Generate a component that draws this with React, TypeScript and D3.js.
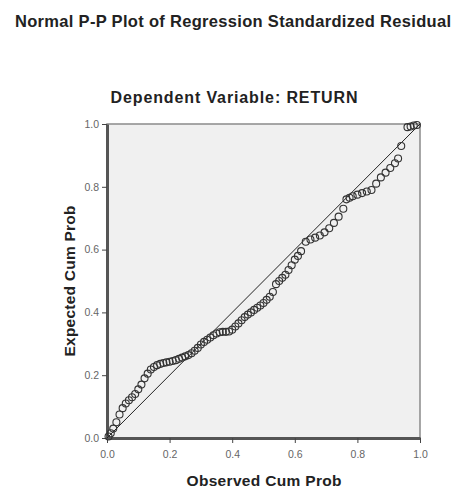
import { useEffect, useRef } from 'react'
import * as d3 from 'd3'

// Observed cum prob (x) and expected cum prob (y)
const observed = [
  0.005, 0.012, 0.02, 0.03, 0.04, 0.05, 0.06, 0.07, 0.08, 0.09,
  0.1, 0.11, 0.12, 0.13, 0.14, 0.15, 0.16, 0.17, 0.18, 0.19,
  0.2, 0.21, 0.22, 0.23, 0.24, 0.25, 0.26, 0.27, 0.28, 0.29,
  0.3, 0.31, 0.32, 0.33, 0.34, 0.35, 0.36, 0.37, 0.38, 0.39,
  0.4, 0.41, 0.42, 0.43, 0.44, 0.45, 0.46, 0.47, 0.48, 0.49,
  0.5, 0.51, 0.52, 0.53, 0.54, 0.55, 0.56, 0.57, 0.58, 0.59,
  0.6, 0.61, 0.62, 0.635, 0.65, 0.665, 0.68, 0.695, 0.71, 0.725,
  0.74, 0.755, 0.765, 0.775, 0.785, 0.8, 0.815, 0.83, 0.845, 0.86,
  0.875, 0.89, 0.905, 0.92, 0.93, 0.94, 0.96, 0.97, 0.98, 0.99,
]
const expected = [
  0.005, 0.015, 0.03, 0.05, 0.075, 0.095, 0.11, 0.12, 0.13, 0.14,
  0.155, 0.17, 0.19, 0.205, 0.218, 0.226, 0.232, 0.236, 0.239, 0.241,
  0.243, 0.245, 0.248, 0.252, 0.256, 0.26, 0.264, 0.27, 0.278, 0.287,
  0.298, 0.306, 0.313, 0.32, 0.327, 0.333, 0.337, 0.338, 0.338, 0.339,
  0.345, 0.355, 0.365, 0.375, 0.385, 0.393, 0.4, 0.408, 0.415, 0.422,
  0.43, 0.44, 0.45, 0.465, 0.49, 0.5, 0.51, 0.52, 0.535, 0.55,
  0.568, 0.58, 0.595, 0.625, 0.632, 0.638, 0.645, 0.655, 0.668, 0.685,
  0.705, 0.73, 0.76, 0.765, 0.77, 0.775, 0.78, 0.785, 0.79, 0.81,
  0.83, 0.845, 0.86, 0.875, 0.89, 0.93, 0.99, 0.992, 0.995, 0.997,
]
const ticks = [0, 0.2, 0.4, 0.6, 0.8, 1.0]

const W = 456
const H = 490

export default function App() {
  const svgRef = useRef<SVGSVGElement>(null)

  useEffect(() => {
    if (!svgRef.current) return
    const svg = d3.select(svgRef.current)
    svg.selectAll('*').remove()

    const left = 107
    const right = 420
    const top = 124
    const bottom = 438
    const font = 'Liberation Sans, Arial, sans-serif'

    const x = d3.scaleLinear().domain([0, 1]).range([left, right])
    const y = d3.scaleLinear().domain([0, 1]).range([bottom, top])

    svg.append('rect').attr('width', W).attr('height', H).attr('fill', '#fff')

    // titles
    svg.append('text')
      .attr('x', 233)
      .attr('y', 27)
      .attr('text-anchor', 'middle')
      .attr('font-family', font)
      .attr('font-weight', 'bold')
      .attr('font-size', 16.5)
      .attr('textLength', 436)
      .attr('lengthAdjust', 'spacing')
      .attr('fill', '#222')
      .text('Normal P-P Plot of Regression Standardized Residual')

    svg.append('text')
      .attr('x', 234)
      .attr('y', 103)
      .attr('text-anchor', 'middle')
      .attr('font-family', font)
      .attr('font-weight', 'bold')
      .attr('font-size', 16)
      .attr('textLength', 247)
      .attr('lengthAdjust', 'spacing')
      .attr('fill', '#222')
      .text('Dependent Variable: RETURN')

    // plot area
    svg.append('rect')
      .attr('x', left)
      .attr('y', top)
      .attr('width', right - left)
      .attr('height', bottom - top)
      .attr('fill', '#f0f0f0')
      .attr('stroke', '#8a8a8a')
      .attr('stroke-width', 1.5)

    // axes
    const xAxis = svg.append('g')
      .attr('transform', `translate(0,${bottom})`)
      .call(d3.axisBottom(x).tickValues(ticks).tickFormat(d3.format('.1f')).tickSize(5).tickSizeOuter(0))
    const yAxis = svg.append('g')
      .attr('transform', `translate(${left},0)`)
      .call(d3.axisLeft(y).tickValues(ticks).tickFormat(d3.format('.1f')).tickSize(5).tickSizeOuter(0))

    for (const ax of [xAxis, yAxis]) {
      ax.select('.domain').attr('stroke', '#555').attr('stroke-width', 3)
      ax.selectAll('.tick line').attr('stroke', '#444')
      ax.selectAll('.tick text')
        .attr('fill', '#666')
        .attr('font-family', font)
        .attr('font-size', 10.5)
    }
    xAxis.selectAll('.tick text').attr('dy', '1.1em')

    // axis labels
    svg.append('text')
      .attr('x', 264)
      .attr('y', 486)
      .attr('text-anchor', 'middle')
      .attr('font-family', font)
      .attr('font-weight', 'bold')
      .attr('font-size', 15.5)
      .attr('textLength', 155)
      .attr('lengthAdjust', 'spacing')
      .attr('fill', '#222')
      .text('Observed Cum Prob')

    svg.append('text')
      .attr('transform', `translate(75,${(top + bottom) / 2}) rotate(-90)`)
      .attr('text-anchor', 'middle')
      .attr('font-family', font)
      .attr('font-weight', 'bold')
      .attr('font-size', 15.5)
      .attr('textLength', 151)
      .attr('lengthAdjust', 'spacing')
      .attr('fill', '#222')
      .text('Expected Cum Prob')

    // reference diagonal
    svg.append('line')
      .attr('x1', x(0))
      .attr('y1', y(0))
      .attr('x2', x(1))
      .attr('y2', y(1))
      .attr('stroke', '#222')
      .attr('stroke-width', 1)

    // points
    svg.append('g')
      .selectAll('circle')
      .data(observed.map((o, i) => [o, expected[i]]))
      .enter()
      .append('circle')
      .attr('cx', (d) => x(d[0]))
      .attr('cy', (d) => y(d[1]))
      .attr('r', 3.5)
      .attr('fill', 'none')
      .attr('stroke', '#333')
      .attr('stroke-width', 1.1)
  }, [])

  return (
    <div style={{ position: 'absolute', left: 0, top: 0 }}>
      <svg ref={svgRef} width={W} height={H} />
    </div>
  )
}
